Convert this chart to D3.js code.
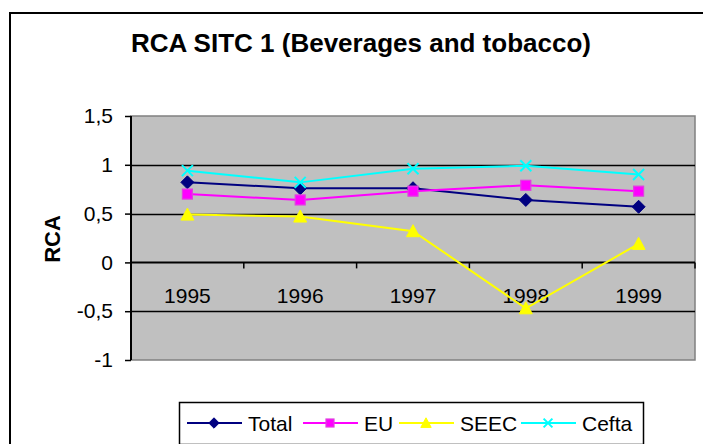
<!DOCTYPE html>
<html>
<head>
<meta charset="utf-8">
<script src="https://cdn.jsdelivr.net/npm/d3@7"></script>
<style>
	html, body { margin: 0; padding: 0; background: #fff; }
	svg { display: block; font-family: Arial, "Liberation Sans", sans-serif; }
</style>
</head>
<body>
<svg width="703" height="444"></svg>
<script>
'use strict';

const years = ["1995", "1996", "1997", "1998", "1999"];
const total = [0.82, 0.76, 0.76, 0.64, 0.57];
const eu = [0.70, 0.64, 0.73, 0.79, 0.73];
const seec = [0.49, 0.47, 0.32, -0.47, 0.19];
const cefta = [0.94, 0.82, 0.96, 0.99, 0.90];
const yTicks = [-1, -0.5, 0, 0.5, 1, 1.5];

const series = [
	{ name: "Total", values: total, color: "#000080", marker: "diamond" },
	{ name: "EU", values: eu, color: "#FF00FF", marker: "square" },
	{ name: "SEEC", values: seec, color: "#FFFF00", marker: "triangle" },
	{ name: "Cefta", values: cefta, color: "#00FFFF", marker: "cross" }
];

function drawChart() {
	const svg = d3.select("svg");
	const plot = { left: 131, right: 695, top: 116, bottom: 360 };

	const x = d3.scaleBand().domain(years).range([plot.left, plot.right]);
	const y = d3.scaleLinear().domain([-1, 1.5]).range([plot.bottom, plot.top]);
	const fmt = d => String(d).replace(".", ",");

	// outer chart frame (runs off the picture on the right and bottom)
	svg.append("rect")
		.attr("x", 10).attr("y", 13)
		.attr("width", 760).attr("height", 500)
		.attr("fill", "none").attr("stroke", "#000").attr("stroke-width", 2);

	svg.append("text")
		.attr("x", 361).attr("y", 52)
		.attr("text-anchor", "middle")
		.attr("font-size", 26).attr("font-weight", "bold")
		.text("RCA SITC 1 (Beverages and tobacco)");

	// plot area
	svg.append("rect")
		.attr("x", plot.left).attr("y", plot.top)
		.attr("width", plot.right - plot.left).attr("height", plot.bottom - plot.top)
		.attr("fill", "#C0C0C0").attr("stroke", "#808080").attr("stroke-width", 1.5);

	svg.append("g")
		.selectAll("line")
		.data(yTicks.filter(d => d !== -1 && d !== 1.5 && d !== 0))
		.enter().append("line")
		.attr("x1", plot.left).attr("x2", plot.right)
		.attr("y1", d => Math.round(y(d)) + 0.5).attr("y2", d => Math.round(y(d)) + 0.5)
		.attr("stroke", "#000").attr("stroke-width", 1.3);

	const yAxis = svg.append("g")
		.attr("transform", `translate(${plot.left},0)`)
		.call(d3.axisLeft(y).tickValues(yTicks).tickFormat(fmt).tickSize(6).tickPadding(12));
	yAxis.select(".domain").attr("stroke-width", 2).attr("d", `M0,${plot.top}V${plot.bottom}`);
	yAxis.selectAll(".tick line").attr("stroke-width", 1.5);
	yAxis.selectAll("text").attr("font-size", 21).attr("fill", "#000")
		.attr("font-family", "Arial, 'Liberation Sans', sans-serif");

	// category axis crosses at 0
	const xAxis = svg.append("g")
		.attr("transform", `translate(0,${y(0)})`)
		.call(d3.axisBottom(x).tickSize(0).tickPadding(26));
	xAxis.select(".domain").attr("stroke-width", 2).attr("d", `M${plot.left},0H${plot.right}`);
	xAxis.selectAll("text").attr("font-size", 21).attr("fill", "#000")
		.attr("font-family", "Arial, 'Liberation Sans', sans-serif");
	xAxis.append("g")
		.selectAll("line")
		.data(years.slice(1).concat(["end"]))
		.enter().append("line")
		.attr("x1", d => d === "end" ? plot.right : x(d))
		.attr("x2", d => d === "end" ? plot.right : x(d))
		.attr("y1", 0).attr("y2", 6)
		.attr("stroke", "#000").attr("stroke-width", 1.5);

	svg.append("text")
		.attr("transform", `translate(60,239) rotate(-90)`)
		.attr("text-anchor", "middle")
		.attr("font-size", 22).attr("font-weight", "bold")
		.text("RCA");

	const cx = (d, i) => x(years[i]) + x.bandwidth() / 2;
	const line = d3.line().x(cx).y(d => y(d));

	const groups = svg.append("g").selectAll("g")
		.data(series)
		.enter().append("g");

	groups.append("path")
		.attr("d", s => line(s.values))
		.attr("fill", "none")
		.attr("stroke", s => s.color)
		.attr("stroke-width", 2);

	groups.each(function(s) {
		d3.select(this).selectAll(".mark")
			.data(s.values)
			.enter().each(function(d, i) {
				drawMarker(d3.select(this), s, cx(d, i), y(d), 1);
			});
	});

	// legend
	const legend = svg.append("g");
	legend.append("rect")
		.attr("x", 179.5).attr("y", 402.5)
		.attr("width", 464).attr("height", 42)
		.attr("fill", "#fff").attr("stroke", "#000").attr("stroke-width", 1.5);
	const legendX = [187, 303, 399, 521];
	const ly = 423;
	series.forEach((s, i) => {
		const lx = legendX[i];
		legend.append("line")
			.attr("x1", lx).attr("x2", lx + 55)
			.attr("y1", ly).attr("y2", ly)
			.attr("stroke", s.color).attr("stroke-width", 2);
		drawMarker(legend, s, lx + 27, ly, 0.8);
		legend.append("text")
			.attr("x", lx + 61).attr("y", ly + 7.5)
			.attr("font-size", 21)
			.text(s.name);
	});
}

function drawMarker(parent, s, px, py, k) {
	if (s.marker === "diamond") {
		const r = 6.5 * k;
		parent.append("path")
			.attr("d", `M${px},${py - r}L${px + r},${py}L${px},${py + r}L${px - r},${py}Z`)
			.attr("fill", s.color).attr("stroke", s.color);
	} else if (s.marker === "square") {
		const r = 5 * k;
		parent.append("rect")
			.attr("x", px - r).attr("y", py - r)
			.attr("width", 2 * r).attr("height", 2 * r)
			.attr("fill", s.color).attr("stroke", "#E040E0").attr("stroke-width", 1.2);
	} else if (s.marker === "triangle") {
		const r = 6.5 * k;
		parent.append("path")
			.attr("d", `M${px},${py - r}L${px + r},${py + r * 0.85}L${px - r},${py + r * 0.85}Z`)
			.attr("fill", s.color).attr("stroke", s.color);
	} else {
		const r = 5.5 * k;
		parent.append("path")
			.attr("d", `M${px - r},${py - r}L${px + r},${py + r}M${px + r},${py - r}L${px - r},${py + r}`)
			.attr("stroke", s.color).attr("stroke-width", 2);
	}
}

drawChart();
</script>
</body>
</html>
